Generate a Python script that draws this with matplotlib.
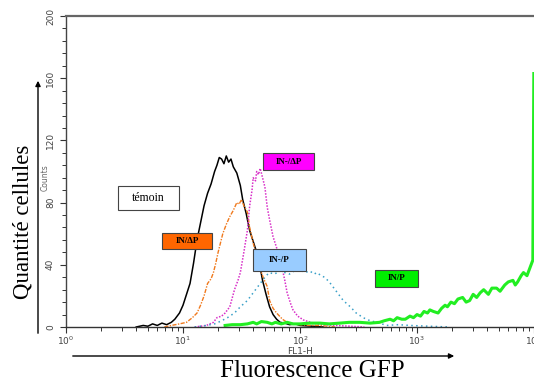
import matplotlib
matplotlib.use("Agg")
import matplotlib.pyplot as plt
import numpy as np
from matplotlib.patches import Rectangle, FancyArrowPatch
from matplotlib.ticker import FixedLocator, LogLocator, NullFormatter

W, H = 534, 383

# FL1-H positions are given as log10 of the channel value
temoin_log = [0.60, 0.66, 0.70, 0.74, 0.78, 0.82, 0.86, 0.90, 0.93, 0.97, 1.00, 1.03, 1.06,
              1.09, 1.12, 1.15, 1.18, 1.21, 1.24, 1.27, 1.29, 1.31, 1.33, 1.35, 1.37, 1.39,
              1.41, 1.43, 1.46, 1.49, 1.51, 1.54, 1.57, 1.60, 1.63, 1.66, 1.68, 1.71, 1.74,
              1.77, 1.80, 1.83, 1.87, 1.91, 1.96, 2.00, 2.10, 2.20]
temoin_cnt = [0, 1, 0.5, 2, 1, 2.5, 1.5, 3, 5, 9, 14, 21, 28, 41, 56, 67, 78, 86, 92, 100,
              104, 109, 108, 105, 110, 106, 108, 103, 99, 91, 82, 73, 62, 55, 48, 38, 30, 21,
              13, 8, 5, 3, 2.5, 1.5, 2, 1, 0.5, 0]

indp_log = [0.84, 0.90, 0.97, 1.03, 1.08, 1.12, 1.15, 1.18, 1.21, 1.24, 1.26, 1.28, 1.30,
            1.32, 1.34, 1.37, 1.40, 1.43, 1.46, 1.48, 1.50, 1.52, 1.55, 1.57, 1.60, 1.63,
            1.66, 1.69, 1.72, 1.74, 1.77, 1.80, 1.85, 1.89, 1.95, 2.00, 2.08, 2.17, 2.30]
indp_cnt = [0, 1, 2, 3, 6, 9, 14, 20, 28, 31, 35, 41, 48, 54, 60, 66, 71, 75, 80, 79, 82,
            78, 74, 64, 54, 45, 37, 31, 26, 17, 12, 9, 5, 3, 2, 1.5, 1, 1, 0]

inmdp_log = [1.10, 1.15, 1.20, 1.23, 1.26, 1.29, 1.33, 1.36, 1.40, 1.44, 1.47, 1.49, 1.52,
             1.55, 1.57, 1.59, 1.60, 1.62, 1.63, 1.645, 1.66, 1.67, 1.68, 1.70, 1.72, 1.74,
             1.77, 1.80, 1.83, 1.85, 1.87, 1.89, 1.92, 1.94, 1.98, 2.03, 2.09, 2.15, 2.22,
             2.30, 2.43, 2.55]
inmdp_cnt = [0, 0.5, 1, 2, 3, 6, 7, 9, 13, 24, 30, 35, 48, 62, 78, 88, 96, 94, 100, 98,
             102, 99, 96, 90, 77, 69, 58, 51, 44, 37, 30, 22, 15, 11, 7, 4.5, 3, 2, 1.5, 1,
             0.5, 0]

inmp_log = [1.10, 1.20, 1.27, 1.33, 1.38, 1.44, 1.49, 1.55, 1.60, 1.64, 1.68, 1.71, 1.74,
            1.78, 1.83, 1.87, 1.91, 1.95, 2.00, 2.04, 2.085, 2.12, 2.145, 2.18, 2.21, 2.25,
            2.28, 2.33, 2.37, 2.43, 2.48, 2.54, 2.60, 2.66, 2.74, 2.84, 2.94, 3.10, 3.28]
inmp_cnt = [0, 1, 2, 4, 6, 9, 13, 17, 22, 26, 30, 33, 35, 34, 36, 35, 34, 36, 37, 35, 36,
            34, 35, 33, 32, 29, 26, 21, 17, 13, 9, 6, 4, 3, 1, 1.5, 1, 0.5, 0]

inp_log = [1.36, 1.42, 1.49, 1.55, 1.60, 1.63, 1.67, 1.72, 1.76, 1.79, 1.84, 1.89, 1.94,
           2.00, 2.08, 2.17, 2.25, 2.34, 2.42, 2.51, 2.60, 2.68, 2.72, 2.77, 2.80, 2.83,
           2.87, 2.90, 2.94, 2.97, 3.00, 3.03, 3.06, 3.09, 3.11, 3.14, 3.18, 3.21, 3.24,
           3.26, 3.29, 3.32, 3.35, 3.39, 3.42, 3.45, 3.48, 3.51, 3.54, 3.57, 3.61, 3.64,
           3.68, 3.71, 3.75, 3.78, 3.82, 3.84, 3.86, 3.89, 3.91, 3.94, 3.97, 3.99, 3.9985]
inp_cnt = [1, 1.5, 1.5, 2, 3, 2, 3.5, 3, 2, 3, 2, 3, 2, 2, 2.5, 2.5, 2, 2.5, 3, 3, 2.5, 3,
           4, 5, 4, 6, 5, 5, 7, 6, 8, 7, 10, 9, 11, 10, 9, 12, 14, 13, 16, 15, 18, 19, 16,
           17, 21, 19, 22, 24, 21, 25, 25, 23, 27, 29, 30, 27, 29, 33, 35, 33, 39, 43, 163]

fig = plt.figure(figsize=(W / 100, H / 100), dpi=100)
ax = fig.add_axes([66 / W, 1 - 327 / H, (534 - 66) / W, (327 - 16) / H])

ax.plot(10 ** np.array(temoin_log), temoin_cnt, color="black", lw=1.1)
ax.plot(10 ** np.array(indp_log), indp_cnt, color="#f07a1e", lw=1.0,
        linestyle=(0, (3, 1, 1, 1)))
ax.plot(10 ** np.array(inmdp_log), inmdp_cnt, color="#d82fc8", lw=1.1, linestyle=(0, (1, 1)))
ax.plot(10 ** np.array(inmp_log), inmp_cnt, color="#3aa0c8", lw=1.1, linestyle=(0, (1, 2.2)))
ax.plot(10 ** np.array(inp_log), inp_cnt, color="#22ee22", lw=2.2)

ax.set_xscale("log")
ax.set_xlim(1, 1e4)
ax.set_ylim(0, 200)

ax.yaxis.set_major_locator(FixedLocator([0, 40, 80, 120, 160, 200]))
ax.yaxis.set_minor_locator(FixedLocator(np.arange(0, 201, 8)))
ax.xaxis.set_major_locator(LogLocator(base=10))
ax.xaxis.set_minor_locator(LogLocator(base=10, subs=np.arange(2, 10)))
ax.xaxis.set_minor_formatter(NullFormatter())

ax.tick_params(which="both", direction="out", color="#333333", labelcolor="#444444",
               labelsize=6.5)
ax.tick_params(which="major", length=4, width=0.8)
ax.tick_params(which="minor", length=3, width=0.7)
ax.tick_params(axis="y", pad=4)
ax.tick_params(axis="x", pad=1.5)
for lab in ax.get_yticklabels():
    lab.set_rotation(90)
    lab.set_va("center")

ax.spines["right"].set_visible(False)
ax.spines["top"].set_color("#666666")
ax.spines["top"].set_linewidth(1.6)
ax.spines["left"].set_color("#444444")
ax.spines["bottom"].set_color("#333333")
ax.spines["left"].set_linewidth(1.0)
ax.spines["bottom"].set_linewidth(1.0)

ax.set_xlabel("FL1-H", fontsize=6.5, color="#444444", va="center")
ax.xaxis.set_label_coords(0.5, -0.08)
ax.set_ylabel("Counts", fontsize=5.5, color="#666666", va="center")
ax.yaxis.set_label_coords(-0.045, 0.48)


def fx(x):
    return x / W


def fy(y):
    return 1 - y / H


def label_box(x0, y0, x1, y1, face, text, size=6.5, weight="bold"):
    fig.patches.append(Rectangle((fx(x0), fy(y1)), fx(x1) - fx(x0), fy(y0) - fy(y1),
                                 transform=fig.transFigure, facecolor=face,
                                 edgecolor="#444444", lw=0.8))
    fig.text(fx((x0 + x1) / 2), fy((y0 + y1) / 2), text, ha="center", va="center",
             fontsize=size, fontweight=weight, family="Liberation Serif", color="black")


label_box(118, 186, 179, 210, "white", "témoin", size=8.5, weight="normal")
label_box(162, 233, 212, 249, "#ff6600", "IN/ΔP")
label_box(263, 153, 314, 170, "#ff00ff", "IN-/ΔP")
label_box(253, 249, 306, 271, "#99ccff", "IN-/P")
label_box(375, 270, 418, 287, "#00ee00", "IN/P")

fig.text(fx(23), fy(222), "Quantité cellules", rotation=90, ha="center", va="center",
         fontsize=16.5, family="Liberation Serif")
fig.text(fx(312), fy(371), "Fluorescence GFP", ha="center", va="center",
         fontsize=18, family="Liberation Serif")

fig.patches.append(FancyArrowPatch(
    (fx(38), fy(336)), (fx(38), fy(78)), transform=fig.transFigure,
    arrowstyle="-|>,head_length=3,head_width=1.5", color="black", lw=1.0))
fig.patches.append(FancyArrowPatch(
    (fx(70), fy(356)), (fx(457), fy(356)), transform=fig.transFigure,
    arrowstyle="-|>,head_length=3,head_width=1.5", color="black", lw=1.0))

fig.savefig("out.png", dpi=100)
